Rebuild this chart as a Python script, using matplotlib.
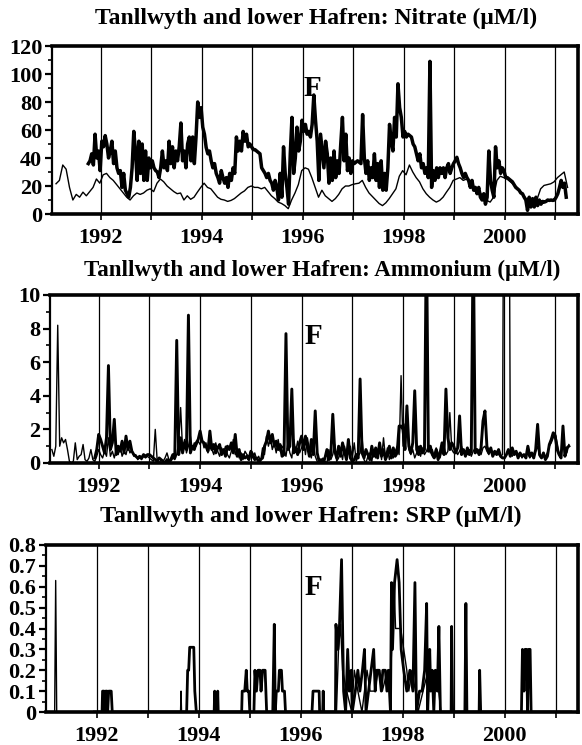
import numpy as np
import matplotlib
matplotlib.use("Agg")
import matplotlib.pyplot as plt
from matplotlib.ticker import MultipleLocator

plt.rcParams['font.family'] = ['Liberation Serif', 'DejaVu Serif']
plt.rcParams['font.weight'] = 'bold'

# ---------------- Nitrate (uM/l) ----------------
# thick line: sampled every 1/30 yr from 1991.75
nitrate_thick_start = 1991.75
nitrate_thick = [
    36, 38, 43, 35, 57, 40, 45, 31, 52, 48, 56, 50, 40, 45, 52, 36, 45, 33, 29, 31,
    19, 29, 17, 14.5, 12, 19, 33, 59, 45, 24, 52, 29, 50, 24, 45, 24, 40, 33, 38, 33,
    31, 30, 26, 33, 45, 33, 38, 31, 52, 36, 48, 33, 45, 38, 48, 65, 38, 45, 33, 50,
    55, 38, 55, 36, 55, 80, 69, 76, 62, 57,
    47.6, 43, 45, 38, 33, 36, 29, 26, 22, 31, 26, 22, 26, 19, 29, 24, 33, 29, 55, 45,
    52, 45, 59, 52, 57, 48, 50, 48, 46, 46, 45, 44, 43, 33, 31, 29, 26, 29, 24, 22,
    17, 24, 19, 10, 29, 12, 48, 29, 19, 7, 43, 69, 29, 40, 62, 45, 52, 67, 59, 64,
    57, 59, 55, 64, 85, 67, 52, 24, 57, 45, 33, 52, 43, 22, 40, 24, 45, 26, 38, 29,
    50, 69, 38, 57, 31, 40, 29, 38, 36, 37, 38, 37, 36,
    71, 40.5, 29, 38, 24, 33, 26, 43, 24, 36, 19, 38, 17, 29, 17, 33, 64, 52, 45, 69,
    55, 93, 76, 69, 55, 59, 55, 57, 56, 55, 50, 48, 43, 38, 43, 33, 36, 29, 33, 26,
    109, 19, 31, 24, 33, 26, 33, 29, 33, 26, 33, 36, 29, 33, 36, 38, 40.5, 36, 33, 29,
    26, 29, 26, 24, 19, 24, 17, 19, 14.5, 19, 12, 10, 14.5, 7, 12, 45, 24, 17, 12, 48,
    33, 38, 29, 33, 31, 26, 26, 25, 24, 23, 21, 19, 18, 17, 15, 14.5, 12, 10,
    2.6, 12, 5, 11, 5, 12, 6, 10, 7, 9, 8.5, 9, 10, 9.7, 10, 9.7, 10, 12, 14.5, 19,
    24, 19, 22, 12,
]
# thin line: sampled every 1/15 yr from 1991.11
nitrate_thin_start = 1991.11
nitrate_thin = [
    21.6, 24, 35, 32, 19, 10, 14, 12, 15.6, 13, 16, 19, 25, 22, 28, 29, 26, 24, 21, 18,
    15, 12, 10, 13, 15, 14, 15, 17, 18, 16, 22, 25, 23, 20, 18, 16, 14.5, 15, 10, 13,
    10.5, 12, 15.6, 19, 22,
    19, 18, 15, 12, 10.5, 10, 9, 9.7, 11, 13, 15, 16.5, 19, 20, 19, 19, 18, 19, 16, 13,
    11, 8.5, 7.5, 6, 3.8, 10, 15, 21, 31, 33, 32, 26, 19, 12, 17, 13, 11, 9, 11, 14,
    18, 20, 20, 21, 21.6, 22, 24,
    19, 15, 12.5, 10, 7.5, 6, 8, 11, 14.5, 18, 27, 31, 28, 35, 30, 26, 23, 18, 14.5, 12,
    10, 8.5, 9.7, 12, 15.6, 19, 24, 25, 26, 24, 25, 21.6, 18, 17, 15.6, 12, 9.7, 8.5, 12, 24,
    27, 26, 25, 23, 21, 19, 16, 13,
    10, 7.3, 9, 11, 18, 20.4, 21, 21.6, 23, 26, 28, 30, 19,
]

# ---------------- Ammonium (uM/l) ----------------
# fortnightly samples (1/26 yr); values above 10 run off the top of the axis
amm_thick_start = 1991 + 24 / 26
amm_thick = [
    0.3, 0.8,
    1.7, 1.4, 1.0, 0.6, 1.5, 5.8, 0.8, 1.2, 2.6, 0.5, 1.0, 0.7, 1.3, 0.6, 1.6, 0.8, 1.3, 0.7, 0.5, 0.4, 0.3, 0.4, 0.3, 0.5, 0.4, 0.5,
    0.5, 0.4, 0.3, 0.2, 0.1, 0.3, 0.2, 0.1, 0.0, 0.2, 0.1, 0.2, 0.5, 0.3, 7.3, 0.5, 1.5, 0.6, 1.2, 0.8, 8.8, 0.6, 1.0, 0.8, 1.2, 1.4,
    1.9, 1.3, 1.2, 1.0, 0.7, 1.9, 0.8, 1.1, 0.6, 0.9, 1.1, 0.5, 0.8, 0.4, 1.0, 0.8, 1.2, 0.6, 1.7, 0.4, 0.8, 0.2, 0.5, 0.3, 0.4, 0.2,
    0.7, 0.5, 0.2, 0.3, 0.1, 0.2, 0.3, 1.0, 1.3, 1.9, 1.2, 1.7, 1.0, 1.3, 0.8, 1.1, 0.4, 0.5, 7.7, 0.8, 1.0, 4.4, 0.6, 0.9, 0.5, 1.2,
    1.6, 0.8, 1.6, 1.0, 0.4, 1.4, 0.5, 3.1, 0.6, 0.1, 0.2, 0.0, 0.3, 0.8, 0.2, 0.5, 2.9, 0.7, 0.3, 1.0, 0.4, 1.2, 0.7, 0.2, 1.4, 0.3,
    0.1, 0.2, 0.5, 0.3, 5.0, 0.6, 0.3, 0.8, 0.5, 0.2, 1.0, 0.4, 0.9, 0.3, 1.2, 0.4, 0.8, 0.2, 0.5, 1.0, 0.3, 0.9, 0.4, 0.6, 2.2, 2.2,
    2.0, 0.8, 3.4, 1.0, 0.6, 1.2, 4.3, 0.8, 0.5, 1.0, 0.6, 0.8, 14.0, 0.7, 1.0, 0.5, 0.3, 0.8, 0.2, 0.6, 1.2, 0.5, 4.4, 1.5, 0.8, 1.2,
    1.0, 0.6, 0.9, 2.8, 0.5, 0.8, 0.4, 0.9, 0.5, 0.7, 14.0, 0.6, 0.8, 0.5, 0.9, 2.5, 3.1, 1.0, 0.6, 0.9, 0.4, 0.7, 0.5, 0.8, 0.4, 0.3,
    0.3, 0.5, 0.8, 0.4, 0.9, 0.5, 0.7, 0.3, 0.6, 0.4, 0.5, 0.3, 1.0, 0.4, 0.6, 0.3, 0.8, 2.3, 0.5, 0.3, 0.6, 0.2, 0.4, 1.1, 1.4, 1.8,
    1.6, 0.8, 0.5, 0.3, 2.2, 0.4, 0.9, 1.0,
]
amm_thin_start = 1991 + 2 / 26
amm_thin = [
    0.8, 0.4, 1.0, 8.2, 1.0, 1.5, 1.2, 1.4, 0.8, 0.1, 0.0, 0.1, 1.2, 0.2, 0.4, 0.5, 1.1, 0.2, 0.1, 0.3, 0.8, 0.2, 0.1, 0.4,
    0.8, 0.5, 0.3, 0.7, 0.4, 1.5, 0.4, 0.7, 0.3, 0.8, 0.5, 1.0, 0.4, 0.7, 0.5, 1.0, 0.6, 0.8, 0.4, 0.5, 0.2, 0.3, 0.2, 0.4, 0.3, 0.4,
    0.3, 0.2, 0.1, 2.0, 0.1, 0.0, 0.2, 0.1, 0.3, 0.6, 0.2, 0.1, 0.3, 0.2, 0.5, 1.2, 3.3, 0.8, 1.4, 0.6, 1.0, 1.6, 0.8, 1.2, 1.0, 1.3,
    1.1, 1.4, 0.9, 1.2, 0.6, 1.0, 0.8, 0.5, 1.2, 0.7, 0.4, 0.9, 0.6, 1.0, 0.5, 0.3, 0.7, 1.4, 0.5, 0.8, 0.3, 0.6, 0.2, 0.7, 0.5, 0.4,
    0.5, 0.3, 0.6, 0.2, 0.4, 0.1, 0.9, 0.5, 1.6, 1.0, 1.5, 0.8, 1.2, 0.6, 1.4, 0.7, 1.0, 0.8, 0.4, 1.2, 0.6, 0.3, 1.4, 0.7, 1.3, 0.6,
    0.9, 1.3, 0.5, 1.5, 0.8, 0.3, 1.1, 0.4, 0.1, 0.0, 0.1, 0.3, 0.1, 0.0, 0.8, 0.2, 0.5, 1.1, 0.1, 0.3, 0.8, 0.2, 1.0, 0.4, 0.6, 1.0,
    0.3, 1.2, 0.1, 0.4, 0.6, 1.5, 0.2, 0.0, 0.4, 0.6, 0.1, 0.8, 0.3, 0.6, 1.0, 0.2, 1.5, 0.3, 0.9, 0.2, 0.6, 0.3, 0.7, 1.0, 0.5, 5.2,
    1.0, 2.3, 2.5, 0.8, 0.5, 0.8, 0.3, 0.6, 1.0, 0.4, 0.9, 0.5, 0.7, 1.0, 0.6, 0.8, 0.4, 0.9, 0.6, 0.3, 0.8, 1.0, 0.5, 0.7, 3.0, 0.8,
    0.6, 0.8, 0.5, 0.7, 1.0, 0.6, 0.7, 0.5, 0.8, 0.4, 0.7, 0.9, 0.6, 0.8, 0.5, 0.9, 1.0, 0.7, 0.5, 0.8, 0.6, 0.5, 0.7, 0.5, 0.4, 0.5,
    30, 30, 30, 0.6, 0.4, 0.7, 0.5, 0.4, 0.6, 0.3, 0.5, 0.4, 0.6, 0.3, 0.5, 0.4, 0.7, 1.0, 0.4, 0.3, 0.5, 0.4, 0.6, 1.0, 1.2, 1.5,
    1.8, 1.2, 0.6, 0.5, 1.4, 0.8, 0.6, 1.1,
]

# ---------------- SRP (uM/l) ----------------
srp_thick_t = [
    1991.95, 1992.10, 1992.11, 1992.14, 1992.15, 1992.17, 1992.20, 1992.21, 1992.23, 1992.28, 1992.30,
    1993.76, 1993.78, 1993.80, 1993.82, 1993.90, 1993.92, 1993.95,
    1994.30, 1994.31, 1994.32, 1994.36, 1994.37, 1994.38,
    1994.84, 1994.85, 1994.90, 1994.93, 1994.95, 1994.98, 1995.00,
    1995.08, 1995.10, 1995.13, 1995.16, 1995.20, 1995.22, 1995.25, 1995.30, 1995.33,
    1995.45, 1995.48, 1995.50, 1995.52, 1995.56, 1995.58, 1995.62, 1995.64, 1995.68, 1995.70,
    1996.22, 1996.24, 1996.36, 1996.37, 1996.43, 1996.44, 1996.45,
    1996.68, 1996.69, 1996.73, 1996.76, 1996.80, 1996.84, 1996.88, 1996.92, 1996.95, 1996.99, 1997.01,
    1997.07, 1997.12, 1997.16, 1997.21, 1997.25, 1997.28, 1997.33, 1997.38, 1997.43, 1997.46,
    1997.49, 1997.54, 1997.58, 1997.61, 1997.66, 1997.69, 1997.72, 1997.76, 1997.78, 1997.80,
    1997.84, 1997.89, 1997.93, 1997.97, 1998.02, 1998.08, 1998.14, 1998.20, 1998.24, 1998.27,
    1998.33, 1998.38, 1998.43, 1998.47, 1998.49, 1998.53, 1998.55, 1998.58, 1998.61, 1998.64,
    1998.68, 1998.71, 1998.74, 1998.95, 1998.96, 1998.98, 1999.22, 1999.24, 1999.26,
    1999.50, 1999.51, 1999.53, 2000.33, 2000.35, 2000.38, 2000.40, 2000.43, 2000.45, 2000.47,
    2000.50, 2000.52, 2001.30,
]
srp_thick_v = [
    0, 0, 0.1, 0.1, 0, 0.1, 0.1, 0, 0.1, 0.1, 0,
    0, 0.2, 0.2, 0.31, 0.31, 0.1, 0,
    0, 0.1, 0, 0, 0.1, 0,
    0, 0.1, 0.1, 0.2, 0.1, 0.1, 0,
    0, 0.2, 0.1, 0.2, 0.2, 0.1, 0.2, 0.2, 0,
    0, 0.42, 0, 0.1, 0.1, 0.2, 0.2, 0.1, 0.1, 0,
    0, 0.1, 0.1, 0, 0, 0.1, 0,
    0, 0.42, 0.3, 0.42, 0.73, 0.1, 0, 0.3, 0.1, 0.2, 0,
    0.1, 0.2, 0.1, 0.2, 0.3, 0, 0.1, 0.2, 0.3, 0.1,
    0.2, 0.2, 0.1, 0.2, 0.2, 0.1, 0.2, 0, 0.62, 0.3,
    0.62, 0.73, 0.62, 0.3, 0.2, 0.1, 0.2, 0.1, 0.62, 0,
    0.1, 0.1, 0.2, 0.52, 0, 0.3, 0.1, 0.2, 0, 0.2,
    0.1, 0.41, 0, 0, 0.41, 0, 0, 0.52, 0,
    0, 0.2, 0, 0, 0.3, 0.1, 0.3, 0.3, 0, 0.3,
    0.3, 0, 0,
]
srp_thin_t = [
    1991.05, 1991.17, 1991.19, 1991.21, 1993.64, 1993.65, 1993.66,
    1996.70, 1996.74, 1996.78, 1996.82, 1996.90, 1997.00, 1997.05, 1997.12, 1997.20,
    1997.30, 1997.36, 1997.45, 1997.52, 1997.60, 1997.70, 1997.75, 1997.80, 1997.83,
    1997.86, 1997.96, 1998.02, 1998.08, 1998.12, 1998.18, 1998.25, 1998.30, 1998.40,
    1998.50, 1998.58, 1998.66, 1998.75, 2001.30,
]
srp_thin_v = [
    0, 0, 0.63, 0, 0, 0.1, 0,
    0, 0.3, 0.42, 0.2, 0.1, 0.0, 0.2, 0.1, 0.0,
    0.2, 0.1, 0.1, 0.2, 0.1, 0.2, 0.1, 0.4, 0.62,
    0.4, 0.4, 0.3, 0.2, 0.1, 0.2, 0.1, 0.0, 0.1,
    0.2, 0.1, 0.2, 0.0, 0,
]

years = list(range(1992, 2002))
year_labels = [str(y) if y % 2 == 0 else '' for y in years]

W, H = 582, 745
fig = plt.figure(figsize=(W / 100, H / 100), dpi=100)


def make_axes(left, top, right, bottom):
    return fig.add_axes([left / W, 1 - bottom / H, (right - left) / W, (bottom - top) / H])


def style(ax, xlim, ylim, major, minor, labels=None):
    ax.set_xlim(*xlim)
    ax.set_ylim(*ylim)
    ax.set_xticks(years)
    ax.set_xticklabels(year_labels)
    ax.yaxis.set_major_locator(MultipleLocator(major))
    ax.yaxis.set_minor_locator(MultipleLocator(minor))
    if labels is not None:
        ax.set_yticks(np.arange(len(labels)) * major)
        ax.set_yticklabels(labels)
    ax.grid(axis='x', color='black', linewidth=0.9)
    ax.set_axisbelow(True)
    for side in ['top', 'right', 'bottom']:
        ax.spines[side].set_linewidth(2.6)
    ax.spines['left'].set_linewidth(1.6)
    ax.tick_params(axis='x', direction='out', length=4, width=1.2, labelsize=16, pad=6)
    ax.tick_params(axis='y', which='major', direction='out', length=5, width=1.6, labelsize=16, pad=2)
    ax.tick_params(axis='y', which='minor', direction='out', length=3, width=1.2)


def title(x, y, txt, size=17):
    fig.text(x / W, 1 - y / H, txt, ha='center', va='center', fontsize=size, fontweight='bold')


# Nitrate
ax1 = make_axes(52, 46, 578, 214)
t = nitrate_thin_start + np.arange(len(nitrate_thin)) / 15
ax1.plot(t, nitrate_thin, color='black', lw=1.0)
t = nitrate_thick_start + np.arange(len(nitrate_thick)) / 30
ax1.plot(t, nitrate_thick, color='black', lw=2.5)
style(ax1, (1991.03, 2001.45), (0, 120), 20, 10)
ax1.text(1996.18, 90, 'F', fontsize=21, fontweight='bold', ha='center', va='center')
title(316, 18, 'Tanllwyth and lower Hafren: Nitrate (\u03bcM/l)')

# Ammonium
ax2 = make_axes(50, 295, 578, 463)
t = amm_thin_start + np.arange(len(amm_thin)) / 26
ax2.plot(t, amm_thin, color='black', lw=1.0)
t = amm_thick_start + np.arange(len(amm_thick)) / 26
ax2.plot(t, amm_thick, color='black', lw=2.1)
style(ax2, (1991.04, 2001.45), (0, 10), 2, 1)
ax2.text(1996.24, 7.55, 'F', fontsize=21, fontweight='bold', ha='center', va='center')
title(322, 270, 'Tanllwyth and lower Hafren: Ammonium (\u03bcM/l)', 16.6)

# SRP
ax3 = make_axes(46, 545, 578, 712)
ax3.plot(srp_thin_t, srp_thin_v, color='black', lw=1.0)
ax3.plot(srp_thick_t, srp_thick_v, color='black', lw=2.0)
srp_labels = ['0', '0.1', '0.2', '0.3', '0.4', '0.5', '0.6', '0.7', '0.8']
style(ax3, (1991.0, 2001.44), (0, 0.8), 0.1, 0.05, srp_labels)
ax3.text(1996.25, 0.595, 'F', fontsize=21, fontweight='bold', ha='center', va='center')
title(311, 516, 'Tanllwyth and lower Hafren: SRP (\u03bcM/l)', 17.4)

fig.savefig('out.png', dpi=100)
